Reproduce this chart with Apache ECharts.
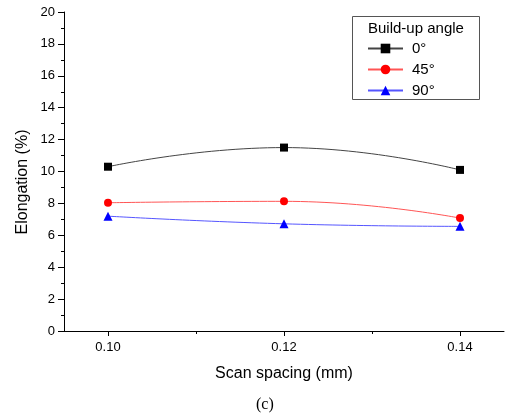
<!DOCTYPE html>
<html><head><meta charset="utf-8">
<script src="https://cdn.jsdelivr.net/npm/echarts@6/dist/echarts.min.js"></script>
<style>html,body{margin:0;padding:0;background:#fff}#c{width:505px;height:416px}</style>
</head><body><div id="c"></div>
<script>
const scanSpacing = [0.10, 0.12, 0.14];
const angle0 = [10.3, 11.5, 10.1];
const angle45 = [8.04, 8.13, 7.08];
const angle90 = [7.2, 6.72, 6.56];
const seriesNames = ['0°', '45°', '90°'];
const xMajorTicks = [0.10, 0.12, 0.14];
const xMinorTicks = [0.11, 0.13];

const F = 'Liberation Sans, Arial, sans-serif';
const pair = (ys) => scanSpacing.map((x, i) => [x, ys[i]]);
const chart = echarts.init(document.getElementById('c'));
chart.setOption({
  animation: false,
  grid: {left: 64, top: 12, right: 1, bottom: 85, containLabel: false},
  xAxis: [{
    type: 'value', min: 0.095, max: 0.145,
    name: 'Scan spacing (mm)', nameLocation: 'middle', nameGap: 35,
    nameTextStyle: {fontFamily: F, fontSize: 16, color: '#000'},
    axisLine: {lineStyle: {color: '#000', width: 1}},
    axisTick: {show: true, length: 5, customValues: xMajorTicks, lineStyle: {color: '#000'}},
    axisLabel: {customValues: xMajorTicks, fontFamily: F, fontSize: 13, color: '#000', margin: 10,
      formatter: v => v.toFixed(2)},
    splitLine: {show: false}
  }, {
    type: 'value', min: 0.095, max: 0.145, position: 'bottom',
    axisLine: {show: false},
    axisTick: {show: true, length: 3, customValues: xMinorTicks, lineStyle: {color: '#000'}},
    axisLabel: {show: false},
    splitLine: {show: false}
  }],
  yAxis: {
    type: 'value', min: 0, max: 20, interval: 2,
    axisLine: {show: true, lineStyle: {color: '#000', width: 1}},
    axisTick: {show: true, length: 6, lineStyle: {color: '#000'}},
    minorTick: {show: true, splitNumber: 2, length: 3, lineStyle: {color: '#000'}},
    axisLabel: {fontFamily: F, fontSize: 13, color: '#000', margin: 9},
    splitLine: {show: false}
  },
  legend: {
    orient: 'vertical', left: 367, top: 41, padding: 0,
    itemWidth: 35, itemHeight: 12, itemGap: 6,
    textStyle: {fontFamily: F, fontSize: 15, lineHeight: 14, color: '#000', padding: [0, 0, 0, 4]},
    data: seriesNames
  },
  graphic: [
    {type: 'rect', left: 350, top: 14, shape: {width: 127, height: 83},
      style: {fill: 'none', stroke: '#555', lineWidth: 1}},
    {type: 'text', left: 368, top: 21, style: {text: 'Build-up angle', font: '15px ' + F, fill: '#000'}},
    {type: 'text', x: 23, y: 182, rotation: Math.PI / 2,
      style: {text: 'Elongation (%)', font: '16px ' + F, fill: '#000', align: 'center', verticalAlign: 'middle'}},
    {type: 'text', left: 256, top: 397, style: {text: '(c)', font: '16px Liberation Serif, Times New Roman, serif', fill: '#000'}}
  ],
  series: [
    {name: seriesNames[0], type: 'line', smooth: true, data: pair(angle0),
      symbol: 'rect', symbolSize: 8, lineStyle: {color: '#444', width: 1},
      itemStyle: {color: '#000'}},
    {name: seriesNames[1], type: 'line', smooth: true, data: pair(angle45),
      symbol: 'circle', symbolSize: 8, lineStyle: {color: '#ff5555', width: 1},
      itemStyle: {color: '#ff0000'}},
    {name: seriesNames[2], type: 'line', smooth: true, data: pair(angle90),
      symbol: 'triangle', symbolSize: 9, lineStyle: {color: '#5555ff', width: 1},
      itemStyle: {color: '#0000ff'}}
  ]
});
</script></body></html>
